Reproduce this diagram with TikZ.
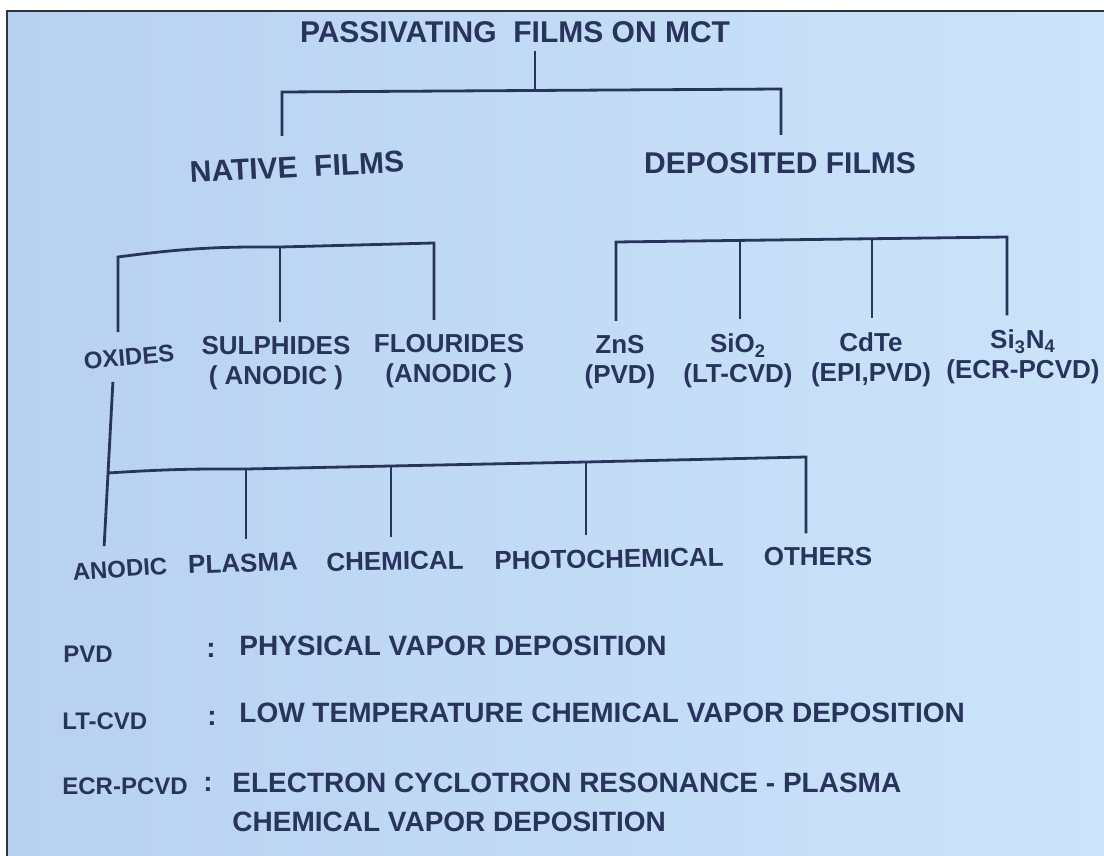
\documentclass[tikz,border=0pt]{standalone}
\usepackage{fontspec}
\setmainfont{Liberation Sans}
\usetikzlibrary{positioning}

\definecolor{ink}{RGB}{40,52,92}
\definecolor{paperl}{RGB}{184,209,240}
\definecolor{paperr}{RGB}{204,228,250}

\tikzset{
  head/.style={font=\fontsize{15}{18}\selectfont\bfseries, text=ink, inner sep=0pt},
  kind/.style={font=\fontsize{13}{15}\selectfont\bfseries, text=ink, align=center, inner sep=0pt},
  way/.style={font=\fontsize{13}{15}\selectfont\bfseries, text=ink, inner sep=0pt},
  abbr/.style={font=\fontsize{12}{14}\selectfont\bfseries, text=ink, anchor=west, inner sep=0pt},
  legtxt/.style={font=\fontsize{14}{17}\selectfont\bfseries, text=ink, anchor=west, inner sep=0pt},
  branch/.style={draw=ink, line width=1.4pt},
}

\begin{document}
\begin{tikzpicture}[x=0.5pt, y=-0.5pt]
	\useasboundingbox (0,0) rectangle (1104,856);
	\fill [white] (0,0) rectangle (1104,856);
	\shade [left color=paperl, right color=paperr] (7,11) rectangle (1104,856);
	\draw [black!80, line width=0.6pt] (7,856) -- (7,11) -- (1104,11);

	% tree labels
	\node [head] (mct) at (515,32) {PASSIVATING~~FILMS ON MCT};
	\node [head, rotate=3] (native) at (297,167) {NATIVE~~FILMS};
	\node [head] (deposited) at (780,163) {DEPOSITED FILMS};

	\node [kind, font=\fontsize{12}{14}\selectfont\bfseries, rotate=5] (oxides) at (129,357) {OXIDES};
	\node [kind] (sulph) at (276,363) {SULPHIDES\\( ANODIC )};
	\node [kind] (flour) at (449,361) {FLOURIDES\\(ANODIC )};
	\node [kind] (zns) at (620,362) {ZnS\\(PVD)};
	\node [kind] (sio2) at (738,361) {SiO\textsubscript{2}\\(LT-CVD)};
	\node [kind] (cdte) at (871,360) {CdTe\\(EPI,PVD)};
	\node [kind] (si3n4) at (1023,357) {Si\textsubscript{3}N\textsubscript{4}\\(ECR-PCVD)};

	\node [way, font=\fontsize{12}{14}\selectfont\bfseries, rotate=4] (anodic) at (120,569) {ANODIC};
	\node [way, rotate=2] (plasma) at (243,563) {PLASMA};
	\node [way, rotate=1] (chem) at (395,561) {CHEMICAL};
	\node [way, rotate=1] (photo) at (609,559) {PHOTOCHEMICAL};
	\node [way] (others) at (818,557) {OTHERS};

	% junctions
	\coordinate (top) at (535,90);
	\coordinate (topl) at (282,92);
	\coordinate (topr) at (781,89);
	\coordinate (nl) at (118,257);
	\coordinate (nm) at (280,247);
	\coordinate (nr) at (434,243);
	\coordinate (dl) at (616,242);
	\coordinate (d2) at (740,241);
	\coordinate (d3) at (872,239);
	\coordinate (dr) at (1007,237);
	\coordinate (oj) at (108,473);
	\coordinate (pj) at (246,469);
	\coordinate (cj) at (391,466);
	\coordinate (hj) at (586,462);
	\coordinate (or) at (806,457);

	% first level
	\draw [branch, shorten <=4pt] (top |- mct.south) -- (top);
	\draw [branch, shorten <=10pt, shorten >=8.5pt] (topl |- native.north) -- (topl) -- (topr) -- (topr |- deposited.north);

	% native films
	\draw [branch, shorten <=8pt, shorten >=7pt] (nl |- oxides.north) -- (nl) to [bend left=4] (nm) -- (nr) -- (nr |- flour.north);
	\draw [branch, shorten >=7pt] (nm) -- (nm |- sulph.north);

	% deposited films
	\draw [branch, shorten <=7pt, shorten >=7pt] (dl |- zns.north) -- (dl) -- (dr) -- (dr |- si3n4.north);
	\draw [branch, shorten >=7pt] (d2) -- (d2 |- sio2.north);
	\draw [branch, shorten >=7pt] (d3) -- (d3 |- cdte.north);

	% oxides
	\draw [branch, shorten <=8pt, shorten >=7pt] ([xshift=-8pt]oxides.south) -- ([xshift=-8pt]anodic.north);
	\draw [branch, shorten >=7pt] (oj) to [bend left=2] (pj) -- (cj) -- (hj) -- (or) -- (or |- others.north);
	\draw [branch, shorten >=7pt] (pj) -- (pj |- plasma.north);
	\draw [branch, shorten >=7pt] (cj) -- (cj |- chem.north);
	\draw [branch, shorten >=7pt] (hj) -- (hj |- photo.north);

	% legend
	\node [abbr] (pvd) at (63,654) {PVD};
	\node [legtxt] (pvdcol) at (206,650) {:};
	\node [legtxt] (pvdtxt) at (239,646) {PHYSICAL VAPOR DEPOSITION};

	\node [abbr] (ltcvd) at (62,721) {LT-CVD};
	\node [legtxt] (ltcol) at (207,718) {:};
	\node [legtxt] (lttxt) at (239,713) {LOW TEMPERATURE CHEMICAL VAPOR DEPOSITION};

	\node [abbr] (ecr) at (62,786) {ECR-PCVD};
	\node [legtxt] (ecrcol) at (203,784) {:};
	\node [legtxt] (ecrtxt) at (232,783) {ELECTRON CYCLOTRON RESONANCE - PLASMA};
	\node [legtxt, below right=9pt and 0pt of ecrtxt.south west] (ecrtxt2) {CHEMICAL VAPOR DEPOSITION};

\end{tikzpicture}
\end{document}
